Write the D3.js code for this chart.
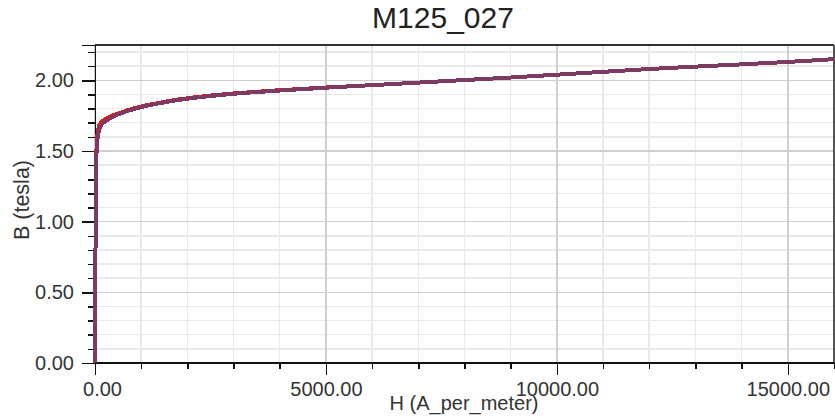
<!DOCTYPE html>
<html>
<head>
<meta charset="utf-8">
<script src="https://cdn.jsdelivr.net/npm/d3@7/dist/d3.min.js"></script>
<style>
  html, body { margin: 0; padding: 0; background: #fff; }
  svg { display: block; font-family: "Liberation Sans", Arial, sans-serif; }
</style>
</head>
<body>
<svg id="chart" width="835" height="419"></svg>
<script>
// ---- data ----
const chartTitle = "M125_027";
const xLabel = "H (A_per_meter)";
const yLabel = "B (tesla)";
const xMajorTicks = [0, 5000, 10000, 15000];
const yMajorTicks = [0, 0.5, 1.0, 1.5, 2.0];
const hValues = [0, 5, 10, 15, 20, 25, 30, 40, 60, 90, 136, 200, 281, 400, 569, 750, 900, 1150, 1400, 1700, 2000, 2500, 3000, 3500, 4000, 5000, 6000, 7000, 8000, 9000, 10000, 11000, 12000, 13000, 14000, 15000, 16000];
const bFitted = [0, 0.30, 0.70, 1.00, 1.20, 1.35, 1.45, 1.53, 1.60, 1.65, 1.684, 1.705, 1.722, 1.745, 1.767, 1.788, 1.802, 1.822, 1.838, 1.856, 1.870, 1.889, 1.905, 1.917, 1.928, 1.948, 1.966, 1.984, 2.002, 2.020, 2.040, 2.060, 2.080, 2.097, 2.113, 2.130, 2.150];
const bMeasured = [0, 0.30, 0.70, 1.00, 1.20, 1.36, 1.47, 1.56, 1.63, 1.68, 1.702, 1.720, 1.734, 1.753, 1.773, 1.793, 1.806, 1.826, 1.841, 1.859, 1.873, 1.892, 1.907, 1.919, 1.930, 1.949, 1.966, 1.984, 2.002, 2.020, 2.040, 2.060, 2.080, 2.097, 2.113, 2.130, 2.150];

// ---- layout ----
(function () {
const svg = d3.select("#chart");
const mLeft = 95, mRight = 834, mTop = 45, mBottom = 363;
const x = d3.scaleLinear().domain([-60, 16000]).range([mLeft - 2.8, mRight]);
const y = d3.scaleLinear().domain([0, 2.25]).range([mBottom, mTop]);

const xMinor = d3.range(0, 16001, 1000).filter(v => !xMajorTicks.includes(v));
const yMinor = d3.range(0, 23).map(i => +(i * 0.1).toFixed(1)).filter(v => !yMajorTicks.some(m => Math.abs(m - v) < 1e-9));

// grid
const grid = svg.append("g").attr("shape-rendering", "crispEdges");
grid.selectAll(".xmin").data(xMinor).join("line")
  .attr("x1", d => x(d)).attr("x2", d => x(d)).attr("y1", mTop).attr("y2", mBottom)
  .attr("stroke", "#e9e9e9").attr("stroke-width", 1.5);
grid.selectAll(".ymin").data(yMinor).join("line")
  .attr("y1", d => y(d)).attr("y2", d => y(d)).attr("x1", mLeft).attr("x2", mRight)
  .attr("stroke", "#e9e9e9").attr("stroke-width", 1.5);
grid.selectAll(".xmaj").data(xMajorTicks).join("line")
  .attr("x1", d => x(d)).attr("x2", d => x(d)).attr("y1", mTop).attr("y2", mBottom)
  .attr("stroke", "#cfcfcf").attr("stroke-width", 1.5);
grid.selectAll(".ymaj").data(yMajorTicks).join("line")
  .attr("y1", d => y(d)).attr("y2", d => y(d)).attr("x1", mLeft).attr("x2", mRight)
  .attr("stroke", "#cfcfcf").attr("stroke-width", 1.5);

// frame (top/right)
svg.append("line").attr("x1", mLeft).attr("x2", mRight).attr("y1", mTop).attr("y2", mTop)
  .attr("stroke", "#333").attr("stroke-width", 1.5).attr("shape-rendering", "crispEdges");
svg.append("line").attr("x1", mRight).attr("x2", mRight).attr("y1", mTop).attr("y2", mBottom)
  .attr("stroke", "#555").attr("stroke-width", 1.5).attr("shape-rendering", "crispEdges");

// axes
const fmt = d3.format(".2f");
const yAxis = svg.append("g").attr("transform", `translate(${mLeft},0)`)
  .call(d3.axisLeft(y).tickValues(yMajorTicks).tickFormat(fmt).tickSize(13).tickPadding(8));
const yAxisMinor = svg.append("g").attr("transform", `translate(${mLeft},0)`)
  .call(d3.axisLeft(y).tickValues(yMinor).tickFormat("").tickSize(7));
const xAxis = svg.append("g").attr("transform", `translate(0,${mBottom})`)
  .call(d3.axisBottom(x).tickValues(xMajorTicks).tickFormat(fmt).tickSize(12).tickPadding(2));
const xAxisMinor = svg.append("g").attr("transform", `translate(0,${mBottom})`)
  .call(d3.axisBottom(x).tickValues(xMinor).tickFormat("").tickSize(6));
xAxis.select(".domain").attr("d", `M${mLeft},0H${mRight}`);
xAxisMinor.select(".domain").attr("d", `M${mLeft},0H${mRight}`);

[yAxis, yAxisMinor, xAxis, xAxisMinor].forEach(g => {
  g.selectAll(".domain").attr("stroke", "#111").attr("stroke-width", 1.5);
  g.selectAll(".tick line").attr("stroke", "#111").attr("stroke-width", 1.5);
  g.selectAll("text").attr("font-size", 20).attr("fill", "#333")
    .attr("font-family", "'Liberation Sans', Arial, sans-serif");
  g.attr("shape-rendering", "crispEdges");
});
xAxis.selectAll(".tick text").attr("dy", "0.95em");
xAxis.selectAll(".tick").filter(d => d === 0).select("text").attr("dx", 7);

// series (drawn over the axes)
const line = d3.line().x((d, i) => x(hValues[i])).y(d => y(d)).curve(d3.curveMonotoneX);
svg.append("path").datum(bMeasured).attr("d", line)
  .attr("fill", "none").attr("stroke", "#ff1010").attr("stroke-width", 4)
  .attr("shape-rendering", "crispEdges");
svg.append("path").datum(bFitted).attr("d", line)
  .attr("fill", "none").attr("stroke", "#7d3b63").attr("stroke-width", 4)
  .attr("stroke-linejoin", "round")
  .attr("shape-rendering", "crispEdges");

// titles
svg.append("text").attr("x", 443).attr("y", 28).attr("text-anchor", "middle")
  .attr("font-size", 30).attr("fill", "#222").text(chartTitle);
svg.append("text").attr("x", 464).attr("y", 410).attr("text-anchor", "middle")
  .attr("font-size", 20).attr("fill", "#333").text(xLabel);
svg.append("text").attr("transform", "translate(29,200) rotate(-90)").attr("text-anchor", "middle")
  .attr("font-size", 21.5).attr("fill", "#333").text(yLabel);
})();
</script>
</body>
</html>
